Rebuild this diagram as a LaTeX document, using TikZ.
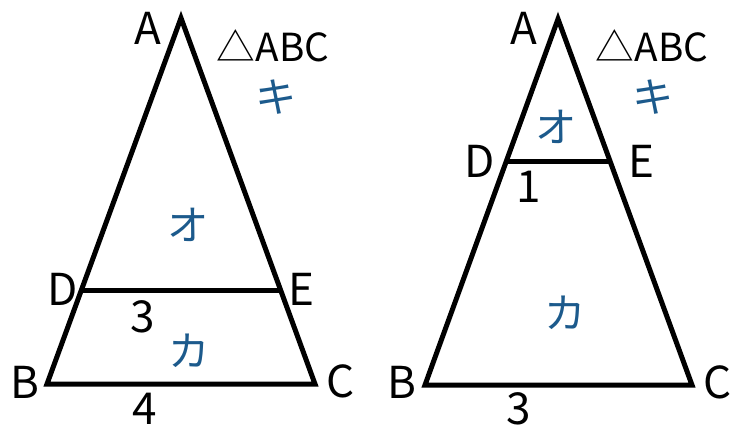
\documentclass[tikz,border=0pt]{standalone}
\usepackage{fontspec}
\setmainfont{Noto Sans CJK JP}
\usetikzlibrary{calc}
\definecolor{kanablue}{HTML}{1C5A8C}
\begin{document}
\begin{tikzpicture}[x=0.75pt,y=-0.75pt,
    edge/.style={line width=3.75pt,line join=miter},
    lbl/.style={font=\fontsize{33}{33}\selectfont,inner sep=0pt},
    tri/.style={font=\fontsize{29}{29}\selectfont,inner sep=0pt},
    kana/.style={text=kanablue,font=\fontsize{31}{31}\selectfont,inner sep=0pt}]
    \useasboundingbox (0,0) rectangle (744,429);
    % left triangle
    \coordinate (A1) at (181,18);
    \coordinate (B1) at (47,384);
    \coordinate (C1) at (315,384);
    \coordinate (D1) at ($(A1)!0.745!(B1)$);
    \coordinate (E1) at ($(A1)!0.745!(C1)$);
    \draw[edge] (A1)--(B1)--(C1)--cycle;
    \draw[edge] (D1)--(E1);
    \node[lbl] (a1) at (148,28) {A};
    \node[lbl] (b1) at (25,382) {B};
    \node[lbl] (c1) at (341,381) {C};
    \node[lbl] (d1) at (63,289) {D};
    \node[lbl] (e1) at (301,289) {E};
    \node[lbl] (de1) at (143,317) {3};
    \node[lbl] (bc1) at (145,409) {4};
    \node[tri] (t1) at (273,46) {△ABC};
    \node[kana] (ki1) at (276,97) {キ};
    \node[kana] (o1) at (188,225) {オ};
    \node[kana] (ka1) at (189,351) {カ};
    % right triangle
    \coordinate (A2) at (558,19);
    \coordinate (B2) at (425,385);
    \coordinate (C2) at (692,385);
    \coordinate (D2) at ($(A2)!0.39!(B2)$);
    \coordinate (E2) at ($(A2)!0.39!(C2)$);
    \draw[edge] (A2)--(B2)--(C2)--cycle;
    \draw[edge] (D2)--(E2);
    \node[lbl] (a2) at (524,28) {A};
    \node[lbl] (b2) at (402,382) {B};
    \node[lbl] (c2) at (718,382) {C};
    \node[lbl] (d2) at (480,161) {D};
    \node[lbl] (e2) at (641,161) {E};
    \node[lbl] (de2) at (529,187) {1};
    \node[lbl] (bc2) at (519,409) {3};
    \node[tri] (t2) at (652,46) {△ABC};
    \node[kana] (ki2) at (653,97) {キ};
    \node[kana] (o2) at (556,127) {オ};
    \node[kana] (ka2) at (565,313) {カ};
\end{tikzpicture}
\end{document}
